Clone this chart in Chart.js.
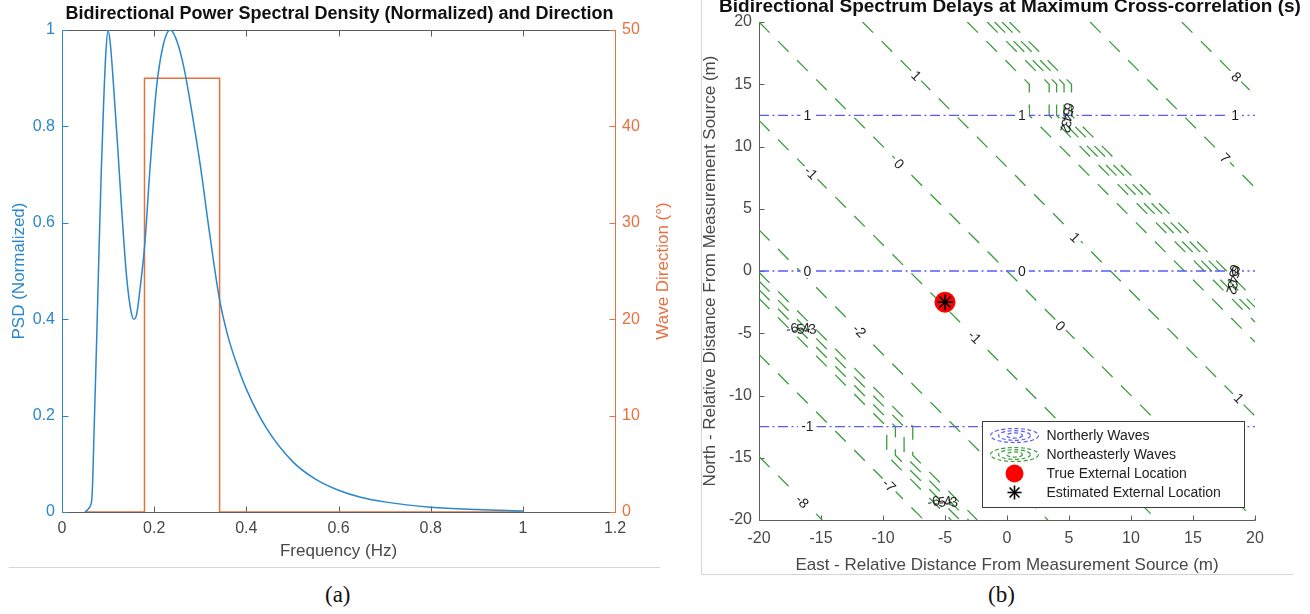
<!DOCTYPE html>
<html>
<head>
<meta charset="utf-8">
<title>Bidirectional spectrum</title>
<script src="https://cdn.jsdelivr.net/npm/chart.js@4.4.0/dist/chart.umd.min.js"></script>
<style>
  body { margin: 0; background: #fff; width: 1310px; height: 614px; position: relative; overflow: hidden; }
  #wrapA { position: absolute; left: 0; top: 0; width: 680px; height: 575px; }
  #wrapB { position: absolute; left: 700px; top: 0; width: 610px; height: 575px; }
  .rule { position: absolute; background: #d4d4d4; }
  .cap { position: absolute; font-family: 'Liberation Serif', 'Times New Roman', serif; font-size: 23px; color: #111; line-height: 26px; }
</style>
</head>
<body>
<div id="wrapA"><canvas id="psdChart"></canvas></div>
<div id="wrapB"><canvas id="delayChart"></canvas></div>
<div class="rule" style="left:9px;top:567px;width:651px;height:1px"></div>
<div class="rule" style="left:701px;top:0;width:1px;height:575px"></div>
<div class="rule" style="left:701px;top:574px;width:592px;height:1px"></div>
<div class="cap" style="left:325px;top:582px">(a)</div>
<div class="cap" style="left:988px;top:582px">(b)</div>
<script>
// ---- (a) spectrum data ----
const psdFreq = [0.05, 0.06, 0.065, 0.07, 0.075, 0.08, 0.085, 0.09, 0.095, 0.1, 0.105, 0.11, 0.12, 0.13, 0.14,
    0.15, 0.156, 0.162, 0.169, 0.18, 0.19, 0.205, 0.22, 0.235, 0.25, 0.265, 0.28, 0.3, 0.32, 0.342, 0.36,
    0.38, 0.4, 0.443, 0.5, 0.55, 0.6, 0.65, 0.7, 0.8, 0.9, 1.0];
const psdValues = [0, 0.01, 0.03, 0.18, 0.35, 0.53, 0.70, 0.84, 0.95, 1.0, 0.97, 0.91, 0.77, 0.62, 0.49,
    0.415, 0.40, 0.41, 0.46, 0.56, 0.70, 0.88, 0.97, 1.0, 0.975, 0.92, 0.84, 0.72, 0.58, 0.44, 0.365,
    0.305, 0.255, 0.175, 0.105, 0.068, 0.045, 0.030, 0.021, 0.010, 0.005, 0.002];
const dirFreq = [0.05, 0.179, 0.179, 0.342, 0.342, 1.0];
const dirValues = [0, 0, 45, 45, 0, 0];
const freqTicks = { min: 0, max: 1.2, step: 0.2 };
const psdTicks = { min: 0, max: 1, step: 0.2 };
const dirTicks = { min: 0, max: 50, step: 10 };

// ---- (b) delay contour data ----
const northerlyLevels = [1, 0, -1];
const northerlyY = [12.5, 0, -12.5];
const northerlyLabelX = [-16.1, 1.2, 18.4];

// straight northeasterly contours: x + y = offset (m)
const northeastLevels = [-8, -7, -2, -1, 0, 1, 7, 8];
const northeastOffsets = [-34.9, -26.7, -16.7, -7.9, 0, 8.35, 26.7, 34.1];

// tightly packed contours that step sideways across the northerly bands
const lowerBandLevels = [-6, -5, -4, -3];
const lowerBandOffsets = [-22.2, -21.5, -20.8, -20.1];
const lowerBandStep = [-12.5, -14.8];
const upperBandLevels = [2, 3, 4, 5, 6];
const upperBandOffsets = [16.8, 18.4, 19.0, 19.6, 20.2];
const upperBandStep = [15, 12.5];

const northeastLabelText = ['1', '0', '-1', '-2', '-1', '-7', '-8', '8', '7', '1', '0', '1'];
const northeastLabelX = [-7.3, -8.7, -15.8, -11.9, -2.6, -9.5, -16.5, 18.5, 17.6, 5.5, 4.3, 18.7];
const northeastLabelY = [15.7, 8.6, 7.9, -4.8, -5.3, -17.2, -18.5, 15.6, 9.1, 2.7, -4.4, -10.2];
const bandLabelX = [5.0, 18.4, -16.6, -5.2];
const bandLabelY = [13.2, 0.2, -4.6, -18.5];

const trueX = [-5];
const trueY = [-2.5];
const estX = [-5];
const estY = [-2.5];
const distTicks = { min: -20, max: 20, step: 5 };

const legendNames = ['Northerly Waves', 'Northeasterly Waves', 'True External Location', 'Estimated External Location'];

const FONT = "'Liberation Sans', Arial, Helvetica, sans-serif";
const PSD_BLUE = '#2a87cd';
const DIR_ORANGE = '#e4713f';
const AXIS_GRAY = '#5c5c5c';
const TEXT_GRAY = '#484848';
const NE_GREEN = '#3c9c3c';
const N_BLUE = '#5a5aff';

function seg(ctx, x1, y1, x2, y2) {
    ctx.beginPath();
    ctx.moveTo(x1, y1);
    ctx.lineTo(x2, y2);
    ctx.stroke();
}
function crisp(v) { return Math.round(v) + 0.5; }
function plainNumber(v) { return String(Number(v.toFixed(2))); }

function drawText(ctx, text, x, y, font, color, angle) {
    ctx.save();
    ctx.translate(x, y);
    if (angle) ctx.rotate(angle);
    ctx.font = font;
    ctx.fillStyle = color;
    ctx.textAlign = 'center';
    ctx.textBaseline = 'middle';
    ctx.fillText(text, 0, 0);
    ctx.restore();
}

// ---------- chart (a) ----------
const frameA = {
    id: 'frameA',
    beforeDatasetsDraw(chart) {
        const { ctx, chartArea: a, scales } = chart;
        const L = crisp(a.left), R = crisp(a.right), T = crisp(a.top), B = crisp(a.bottom);
        ctx.save();
        ctx.lineWidth = 1;
        ctx.strokeStyle = AXIS_GRAY;
        seg(ctx, L, B, R, B);
        seg(ctx, L, T, R, T);
        scales.x.ticks.forEach(t => {
            const px = crisp(scales.x.getPixelForValue(t.value));
            seg(ctx, px, B, px, B - 6);
            seg(ctx, px, T, px, T + 6);
        });
        ctx.strokeStyle = PSD_BLUE;
        seg(ctx, L, T, L, B);
        scales.y.ticks.forEach(t => {
            const py = crisp(scales.y.getPixelForValue(t.value));
            seg(ctx, L, py, L + 6, py);
        });
        ctx.strokeStyle = DIR_ORANGE;
        seg(ctx, R, T, R, B);
        scales.y1.ticks.forEach(t => {
            const py = crisp(scales.y1.getPixelForValue(t.value));
            seg(ctx, R, py, R - 6, py);
        });
        ctx.restore();
    },
    afterDraw(chart) {
        const { ctx, chartArea: a } = chart;
        const cx = (a.left + a.right) / 2, cy = (a.top + a.bottom) / 2;
        drawText(ctx, 'Bidirectional Power Spectral Density (Normalized) and Direction', cx + 1, 14, 'bold 18px ' + FONT, '#111');
        drawText(ctx, 'Frequency (Hz)', cx, a.bottom + 39, '17px ' + FONT, TEXT_GRAY);
        drawText(ctx, 'PSD (Normalized)', 19, cy, '17px ' + FONT, PSD_BLUE, -Math.PI / 2);
        drawText(ctx, 'Wave Direction (\u00b0)', a.right + 48, cy, '17px ' + FONT, DIR_ORANGE, -Math.PI / 2);
    }
};

new Chart(document.getElementById('psdChart'), {
    type: 'line',
    data: {
        datasets: [
            {
                label: 'PSD (Normalized)',
                data: psdFreq.map((f, i) => ({ x: f, y: psdValues[i] })),
                yAxisID: 'y',
                borderColor: PSD_BLUE,
                borderWidth: 1.5,
                pointRadius: 0,
                cubicInterpolationMode: 'monotone',
                fill: false
            },
            {
                label: 'Wave Direction',
                data: dirFreq.map((f, i) => ({ x: f, y: dirValues[i] })),
                yAxisID: 'y1',
                borderColor: DIR_ORANGE,
                borderWidth: 1.5,
                pointRadius: 0,
                tension: 0,
                fill: false
            }
        ]
    },
    options: {
        responsive: true,
        maintainAspectRatio: false,
        animation: false,
        devicePixelRatio: 1,
        layout: { padding: { top: 30 } },
        plugins: { legend: { display: false }, tooltip: { enabled: false } },
        scales: {
            x: {
                type: 'linear', min: freqTicks.min, max: freqTicks.max,
                grid: { display: false, drawTicks: false }, border: { display: false },
                ticks: { stepSize: freqTicks.step, color: TEXT_GRAY, font: { family: FONT, size: 16 }, padding: 7, maxRotation: 0, callback: plainNumber },
                afterFit(s) { s.height = 63; }
            },
            y: {
                type: 'linear', position: 'left', min: psdTicks.min, max: psdTicks.max,
                grid: { display: false, drawTicks: false }, border: { display: false },
                ticks: { stepSize: psdTicks.step, color: PSD_BLUE, font: { family: FONT, size: 16 }, padding: 7, callback: plainNumber },
                afterFit(s) { s.width = 62; }
            },
            y1: {
                type: 'linear', position: 'right', min: dirTicks.min, max: dirTicks.max,
                grid: { display: false, drawTicks: false }, border: { display: false },
                ticks: { stepSize: dirTicks.step, color: DIR_ORANGE, font: { family: FONT, size: 16 }, padding: 7, callback: plainNumber },
                afterFit(s) { s.width = 65; }
            }
        }
    },
    plugins: [frameA]
});

// ---------- chart (b) ----------
const lo = distTicks.min, hi = distTicks.max;

function straightContour(c) {
    const x0 = Math.max(lo, c - hi), x1 = Math.min(hi, c - lo);
    return [{ x: x0, y: c - x0 }, { x: x1, y: c - x1 }];
}
function steppedContour(c, step) {
    const xs = c - step[0];
    const c2 = xs + step[1];
    const x0 = Math.max(lo, c - hi), x1 = Math.min(hi, c2 - lo);
    return [{ x: x0, y: c - x0 }, { x: xs, y: step[0] }, { x: xs, y: step[1] }, { x: x1, y: c2 - x1 }];
}

const delayDatasets = [];
estX.forEach((x, i) => delayDatasets.push({
    label: legendNames[3], data: [{ x: x, y: estY[i] }], showLine: false,
    pointStyle: 'star', pointRadius: 8, borderColor: '#000', borderWidth: 1.6, order: 0
}));
trueX.forEach((x, i) => delayDatasets.push({
    label: legendNames[2], data: [{ x: x, y: trueY[i] }], showLine: false,
    pointStyle: 'circle', pointRadius: 10.5, backgroundColor: '#ff0000', borderColor: '#ff0000', borderWidth: 0, order: 1
}));
const neStyle = { showLine: true, borderColor: NE_GREEN, borderWidth: 1.3, borderDash: [15, 12], pointRadius: 0, fill: false, order: 3 };
northeastOffsets.forEach((c, i) => delayDatasets.push(Object.assign({ label: 'NE ' + northeastLevels[i], data: straightContour(c) }, neStyle)));
lowerBandOffsets.forEach((c, i) => delayDatasets.push(Object.assign({ label: 'NE ' + lowerBandLevels[i], data: steppedContour(c, lowerBandStep) }, neStyle)));
upperBandOffsets.forEach((c, i) => delayDatasets.push(Object.assign({ label: 'NE ' + upperBandLevels[i], data: steppedContour(c, upperBandStep) }, neStyle)));
northerlyY.forEach((y, i) => delayDatasets.push({
    label: 'N ' + northerlyLevels[i], data: [{ x: lo, y: y }, { x: hi, y: y }], showLine: true,
    borderColor: N_BLUE, borderWidth: 1.3, borderDash: [10, 3.5, 2, 3.5], pointRadius: 0, fill: false, order: 2
}));

function inlineLabel(ctx, text, px, py, angle, blank) {
    ctx.save();
    ctx.translate(px, py);
    ctx.rotate(angle);
    ctx.font = '14px ' + FONT;
    const w = ctx.measureText(text).width + 6;
    if (blank) {
        ctx.fillStyle = '#fff';
        ctx.fillRect(-w / 2, -7, w, 14);
    }
    ctx.fillStyle = '#1e1e1e';
    ctx.textAlign = 'center';
    ctx.textBaseline = 'middle';
    ctx.fillText(text, 0, 1);
    ctx.restore();
}

const frameB = {
    id: 'frameB',
    beforeDatasetsDraw(chart) {
        const { ctx, chartArea: a, scales } = chart;
        const L = crisp(a.left), B = crisp(a.bottom);
        ctx.save();
        ctx.lineWidth = 1;
        ctx.strokeStyle = AXIS_GRAY;
        seg(ctx, L, crisp(a.top), L, B);
        seg(ctx, L, B, crisp(a.right), B);
        scales.x.ticks.forEach(t => {
            const px = crisp(scales.x.getPixelForValue(t.value));
            seg(ctx, px, B, px, B - 5);
        });
        scales.y.ticks.forEach(t => {
            const py = crisp(scales.y.getPixelForValue(t.value));
            seg(ctx, L, py, L + 5, py);
        });
        ctx.restore();
    },
    afterDatasetsDraw(chart) {
        const { ctx, scales } = chart;
        const sx = scales.x, sy = scales.y;
        // labels of the northerly contours
        northerlyY.forEach((y, i) => {
            northerlyLabelX.forEach(x => {
                inlineLabel(ctx, String(northerlyLevels[i]), sx.getPixelForValue(x), sy.getPixelForValue(y), 0, true);
            });
        });
        // labels of the northeasterly contours
        northeastLabelText.forEach((t, i) => {
            inlineLabel(ctx, t, sx.getPixelForValue(northeastLabelX[i]), sy.getPixelForValue(northeastLabelY[i]), Math.PI / 4, true);
        });
        // crowded labels where the packed contours sit
        bandLabelX.forEach((x, i) => {
            const px = sx.getPixelForValue(x), py = sy.getPixelForValue(bandLabelY[i]);
            if (bandLabelY[i] > -2) {
                upperBandLevels.slice().reverse().forEach((lv, k) => inlineLabel(ctx, String(lv), px - k * 0.8, py + k * 5.5, 1.9, false));
            } else {
                lowerBandLevels.forEach((lv, k) => inlineLabel(ctx, String(lv), px - 9 + k * 6, py + (k % 2), -0.15, false));
            }
        });
    },
    afterDraw(chart) {
        const { ctx, chartArea: a } = chart;
        const cx = (a.left + a.right) / 2, cy = (a.top + a.bottom) / 2;
        drawText(ctx, 'Bidirectional Spectrum Delays at Maximum Cross-correlation (s)', cx + 3, 7, 'bold 19px ' + FONT, '#111');
        drawText(ctx, 'East - Relative Distance From Measurement Source (m)', cx, a.bottom + 45, '17px ' + FONT, TEXT_GRAY);
        drawText(ctx, 'North - Relative Distance From Measurement Source (m)', 10, cy, '17px ' + FONT, TEXT_GRAY, -Math.PI / 2);

        // legend box in the lower right of the plot
        const w = 262, h = 86;
        const lx = Math.round(a.right - 11 - w) + 0.5, ly = Math.round(a.bottom - 13 - h) + 0.5;
        const rows = [14, 33, 52, 71].map(r => ly + r);
        const ix = lx + 32, tx = lx + 64;
        ctx.save();
        ctx.fillStyle = '#fff';
        ctx.fillRect(lx, ly, w, h);
        ctx.strokeStyle = '#3c3c3c';
        ctx.lineWidth = 1;
        ctx.strokeRect(lx, ly, w, h);
        // contour icons
        [[N_BLUE, rows[0]], [NE_GREEN, rows[1]]].forEach(([col, ry]) => {
            ctx.strokeStyle = col;
            ctx.lineWidth = 1.2;
            ctx.setLineDash([4, 2.5]);
            [[24, 7], [16, 4.8], [8, 2.6]].forEach(([rx, rr]) => {
                ctx.beginPath();
                ctx.ellipse(ix, ry, rx, rr, 0, 0, Math.PI * 2);
                ctx.stroke();
            });
        });
        ctx.setLineDash([]);
        ctx.fillStyle = '#ff0000';
        ctx.beginPath();
        ctx.arc(ix, rows[2], 9, 0, Math.PI * 2);
        ctx.fill();
        ctx.strokeStyle = '#000';
        ctx.lineWidth = 1.6;
        for (let k = 0; k < 4; k++) {
            const ang = k * Math.PI / 4;
            seg(ctx, ix - 7 * Math.cos(ang), rows[3] - 7 * Math.sin(ang), ix + 7 * Math.cos(ang), rows[3] + 7 * Math.sin(ang));
        }
        ctx.font = '14px ' + FONT;
        ctx.fillStyle = '#222';
        ctx.textAlign = 'left';
        ctx.textBaseline = 'middle';
        legendNames.forEach((name, i) => ctx.fillText(name, tx, rows[i] + 1));
        ctx.restore();
    }
};

new Chart(document.getElementById('delayChart'), {
    type: 'scatter',
    data: { datasets: delayDatasets },
    options: {
        responsive: true,
        maintainAspectRatio: false,
        animation: false,
        devicePixelRatio: 1,
        layout: { padding: { top: 22, right: 55 } },
        plugins: { legend: { display: false }, tooltip: { enabled: false } },
        scales: {
            x: {
                type: 'linear', min: lo, max: hi,
                grid: { display: false, drawTicks: false }, border: { display: false },
                ticks: { stepSize: distTicks.step, color: TEXT_GRAY, font: { family: FONT, size: 16 }, padding: 9, maxRotation: 0, callback: plainNumber },
                afterFit(s) { s.height = 55; }
            },
            y: {
                type: 'linear', min: lo, max: hi,
                grid: { display: false, drawTicks: false }, border: { display: false },
                ticks: { stepSize: distTicks.step, color: TEXT_GRAY, font: { family: FONT, size: 16 }, padding: 7, callback: plainNumber },
                afterFit(s) { s.width = 59; }
            }
        }
    },
    plugins: [frameB]
});
</script>
</body>
</html>
